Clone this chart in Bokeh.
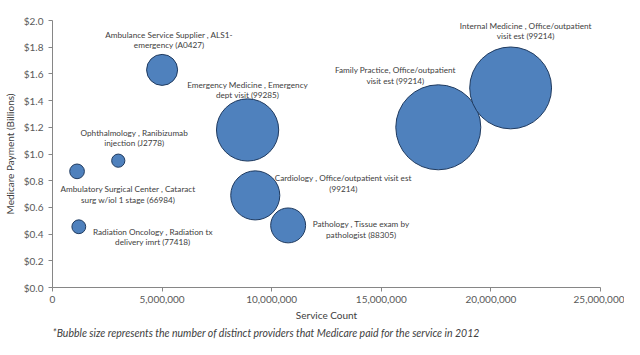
from bokeh.plotting import figure
from bokeh.models import ColumnDataSource, Range1d, NumeralTickFormatter, Title, FixedTicker
from bokeh.core.properties import value
from bokeh.embed import file_html
from bokeh.resources import INLINE
import numpy as np

# ---- data ----
service_count = [5.0e6, 3.0e6, 1.12e6, 1.2e6, 8.9e6, 17.6e6, 20.9e6, 9.25e6, 10.75e6]
payment_billions = [1.63, 0.95, 0.87, 0.455, 1.18, 1.20, 1.495, 0.69, 0.465]
providers = [11600, 2100, 2600, 2300, 46600, 87000, 80700, 29000, 14700]
label_line1 = [
    "Ambulance Service Supplier , ALS1-",
    "Ophthalmology , Ranibizumab",
    "Ambulatory Surgical Center , Cataract",
    "Radiation Oncology , Radiation tx",
    "Emergency Medicine , Emergency",
    "Family Practice, Office/outpatient",
    "Internal Medicine , Office/outpatient",
    "Cardiology , Office/outpatient visit est",
    "Pathology , Tissue exam by",
]
label_line2 = [
    "emergency (A0427)",
    "injection (J2778)",
    "surg w/iol 1 stage (66984)",
    "delivery imrt (77418)",
    "dept visit (99285)",
    "visit est (99214)",
    "visit est (99214)",
    "(99214)",
    "pathologist (88305)",
]
x_ticks = [0, 5e6, 10e6, 15e6, 20e6, 25e6]
y_ticks = [0.0, 0.2, 0.4, 0.6, 0.8, 1.0, 1.2, 1.4, 1.6, 1.8, 2.0]

# ---- label placement (screen px offsets from bubble centre) ----
label_dx = [7, 16, 51, 74, 0, -43, 15, 88, 73]
label_dy = [-35, -28, 18, 5, -45, -57, -62, -17, -1]
LINE_GAP = 10.3
RMAX = 42.5

FONT = "Lato"

pmax = max(providers)
diam = [2 * RMAX * np.sqrt(v / pmax) for v in providers]

src = ColumnDataSource(dict(
    x=service_count, y=payment_billions, d=diam,
    l1=label_line1, l2=label_line2,
    dx=label_dx, dy1=label_dy, dy2=[v + LINE_GAP for v in label_dy],
))

p = figure(width=624, height=339, output_backend="svg", toolbar_location=None,
           x_range=Range1d(0, 25e6), y_range=Range1d(0, 2.0),
           min_border_left=52, min_border_right=24, min_border_top=20, min_border_bottom=52)
p.outline_line_color = None
p.xgrid.visible = False
p.ygrid.visible = False

p.scatter("x", "y", size="d", source=src, marker="circle",
          fill_color="#4F81BD", line_color="#1F3A5F", line_width=1)

for col, dycol in (("l1", "dy1"), ("l2", "dy2")):
    p.text("x", "y", text=col, source=src, x_offset="dx", y_offset=dycol,
           text_align="center", text_baseline="middle",
           text_font=value(FONT), text_font_size="8.2px", text_color="#404040")

for ax in (p.xaxis[0], p.yaxis[0]):
    ax.axis_line_color = "#868686"
    ax.major_tick_line_color = "#868686"
    ax.major_tick_in = 0
    ax.major_tick_out = 4
    ax.minor_tick_line_color = None
    ax.major_label_text_font = FONT
    ax.major_label_text_font_size = "10px"
    ax.major_label_text_color = "#595959"
    ax.axis_label_text_font = FONT
    ax.axis_label_text_font_size = "10px"
    ax.axis_label_text_font_style = "normal"
    ax.axis_label_text_color = "#404040"

p.xaxis.ticker = FixedTicker(ticks=x_ticks)
p.yaxis.ticker = FixedTicker(ticks=y_ticks)
p.xaxis.formatter = NumeralTickFormatter(format="0,0")
p.yaxis.formatter = NumeralTickFormatter(format="$0.0")
p.xaxis.axis_label = "Service Count"
p.yaxis.axis_label = "Medicare Payment (Billions)"
p.xaxis.major_label_standoff = 4
p.xaxis.axis_label_standoff = 3
p.yaxis.major_label_standoff = 5
p.yaxis.axis_label_standoff = 5

note = Title(text="*Bubble size represents  the number of distinct  providers that Medicare  paid for the service  in 2012",
             text_font=FONT, text_font_size="10.5px", text_font_style="italic",
             text_color="#404040", align="left", standoff=2)
p.add_layout(note, "below")

open("out.html", "w").write(file_html(p, INLINE))
